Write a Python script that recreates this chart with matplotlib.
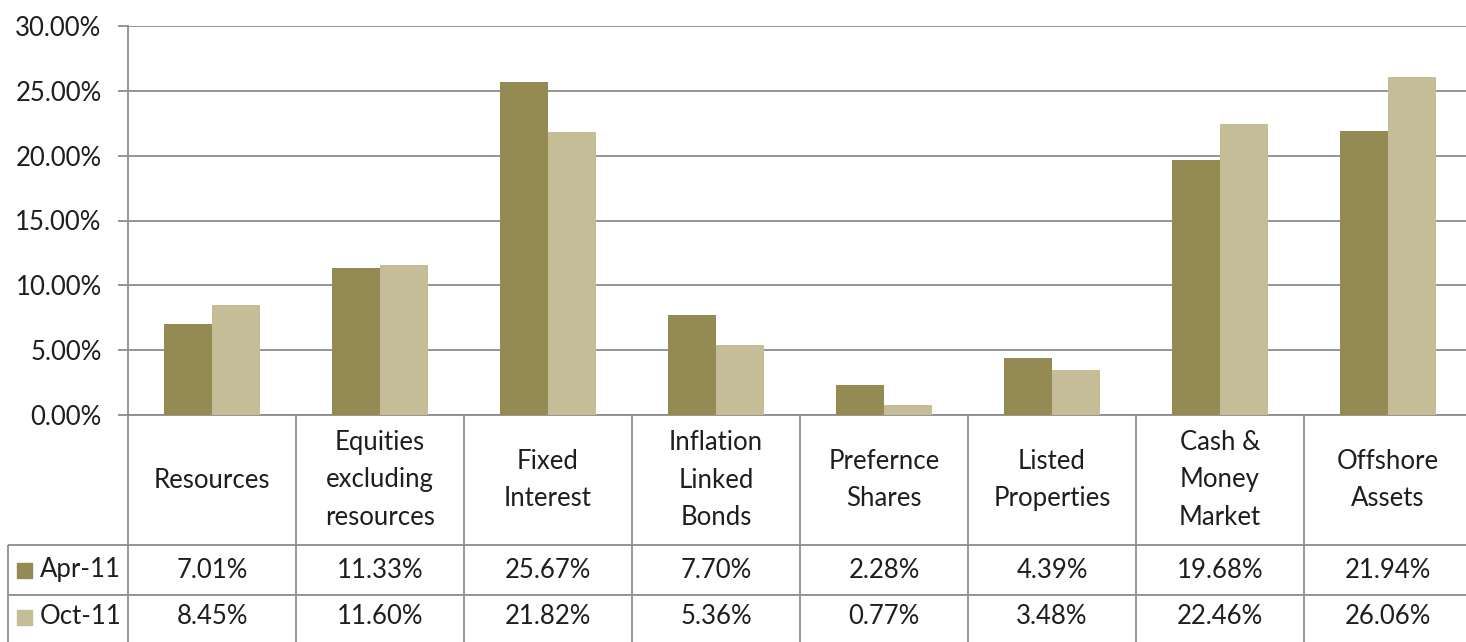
import matplotlib
matplotlib.use("Agg")
import matplotlib.pyplot as plt
import matplotlib.transforms as mtransforms
import numpy as np

categories = ["Resources", "Equities\nexcluding\nresources", "Fixed\nInterest",
              "Inflation\nLinked\nBonds", "Prefernce\nShares", "Listed\nProperties",
              "Cash &\nMoney\nMarket", "Offshore\nAssets"]
series_names = ["Apr-11", "Oct-11"]
apr_11 = [7.01, 11.33, 25.67, 7.70, 2.28, 4.39, 19.68, 21.94]
oct_11 = [8.45, 11.60, 21.82, 5.36, 0.77, 3.48, 22.46, 26.06]
y_ticks = [0, 5, 10, 15, 20, 25, 30]

colors = ["#948A54", "#C4BD97"]
grid_c = "#8C8C8C"
text_c = "#1E1E1E"
FONT = "Lato"
FS = 18.5

W, H = 1466, 642
fig = plt.figure(figsize=(W / 100, H / 100), dpi=100)
fig.patch.set_facecolor("white")

# overlay axes in pixel coordinates (y from top)
ov = fig.add_axes([0, 0, 1, 1], zorder=0)
ov.set_xlim(0, W)
ov.set_ylim(H, 0)
ov.axis("off")

left_px, top_px, zero_px, col_w = 128, 26, 415, 168
n = len(categories)
ax = fig.add_axes([left_px / W, (H - zero_px) / H, n * col_w / W, (zero_px - top_px) / H], zorder=1)
ax.patch.set_alpha(0)
x = np.arange(n)
bw = 0.283
ax.bar(x - bw / 2, apr_11, bw, color=colors[0], zorder=2)
ax.bar(x + bw / 2, oct_11, bw, color=colors[1], zorder=2)
ax.set_xlim(-0.5, n - 0.5)
ax.set_ylim(0, 30)
ax.set_yticks(y_ticks)
ax.set_yticklabels([f"{v:.2f}%" for v in y_ticks], fontsize=FS, family=FONT, color=text_c)
ax.yaxis.grid(True, color=grid_c, linewidth=1.3, zorder=0)
ax.tick_params(axis="y", length=7, width=1.3, color=grid_c, pad=12)
ax.set_xticks([])
for s in ["top", "right", "bottom"]:
    ax.spines[s].set_visible(False)
ax.spines["left"].set_color(grid_c)
ax.spines["left"].set_linewidth(1.3)

# table
bt = mtransforms.blended_transform_factory(ax.transData, ov.transData)
hdr_bot, row1_bot, row2_bot = 545, 595, 645
tbl_left = 8
right_px = W + 10
lkw = dict(color=grid_c, linewidth=1.3, solid_capstyle="butt")
# horizontal lines
ov.plot([tbl_left, right_px], [hdr_bot, hdr_bot], **lkw)
ov.plot([tbl_left, right_px], [row1_bot, row1_bot], **lkw)
ov.plot([left_px, right_px], [zero_px, zero_px], **lkw)
# vertical lines
ov.plot([tbl_left, tbl_left], [hdr_bot, H + 5], **lkw)
for i in range(n + 1):
    ov.plot([i - 0.5, i - 0.5], [zero_px, H + 5], transform=bt, **lkw)

tkw = dict(fontsize=FS, family=FONT, color=text_c, ha="center", va="center")
for i, cat in enumerate(categories):
    ov.text(i, (zero_px + hdr_bot) / 2, cat, transform=bt, linespacing=1.62, **tkw)
    ov.text(i, (hdr_bot + row1_bot) / 2, f"{apr_11[i]:.2f}%", transform=bt, **tkw)
    ov.text(i, (row1_bot + row2_bot) / 2 - 3, f"{oct_11[i]:.2f}%", transform=bt, **tkw)

# legend keys in row labels
for j, (name, yc) in enumerate(zip(series_names, [(hdr_bot + row1_bot) / 2, (row1_bot + row2_bot) / 2 - 3])):
    ov.add_patch(plt.Rectangle((17, yc - 7), 15, 15, color=colors[j]))
    ov.text(40, yc, name, fontsize=FS, family=FONT, color=text_c, ha="left", va="center")

fig.savefig("out.png", dpi=100)
